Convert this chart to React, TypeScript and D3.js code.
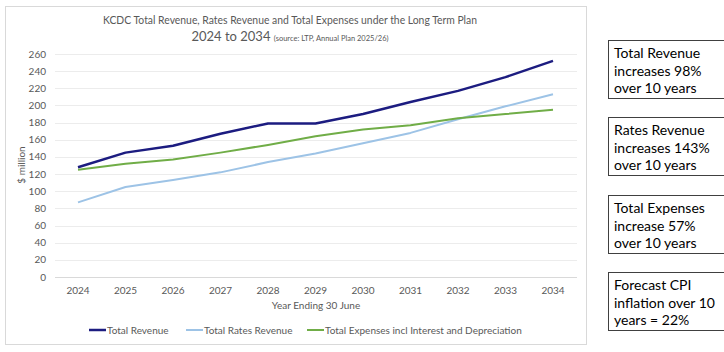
import { useEffect, useRef } from "react";
import * as d3 from "d3";

const years = [2024, 2025, 2026, 2027, 2028, 2029, 2030, 2031, 2032, 2033, 2034];
const totalRevenue = [128, 145, 153, 167, 179, 179, 190, 204, 217, 233, 252];
const ratesRevenue = [87, 105, 113, 122, 134, 144, 156, 168, 184, 199, 213];
const totalExpenses = [125, 132, 137, 145, 154, 164, 172, 177, 185, 190, 195];
const yTicks = [0, 20, 40, 60, 80, 100, 120, 140, 160, 180, 200, 220, 240, 260];

const seriesNames = [
  "Total Revenue",
  "Total Rates Revenue",
  "Total Expenses incl Interest and Depreciation"
];
const seriesColors = ["#1c1c80", "#9dc3e6", "#70ad47"];

const notes = [
  ["Total Revenue", "increases 98%", "over 10 years"],
  ["Rates Revenue", "increases 143%", "over 10 years"],
  ["Total Expenses", "increase 57%", "over 10 years"],
  ["Forecast CPI", "inflation over 10", "years = 22%"]
];

const font = "Lato, 'Open Sans', sans-serif";

const App = () => {
  const svgRef = useRef<SVGSVGElement | null>(null);

  useEffect(() => {
    const svg = d3.select(svgRef.current);
    svg.selectAll("*").remove();

    const width = 724;
    const height = 352;
    svg.attr("width", width).attr("height", height);

    svg.append("rect")
      .attr("width", width).attr("height", height)
      .attr("fill", "#fff");

    // chart frame
    svg.append("rect")
      .attr("x", 5.5).attr("y", 6.5)
      .attr("width", 581).attr("height", 338)
      .attr("fill", "#fff")
      .attr("stroke", "#d9d9d9");

    // title
    svg.append("text")
      .attr("x", 290).attr("y", 24)
      .attr("text-anchor", "middle")
      .attr("font-family", font).attr("font-size", 12)
      .attr("fill", "#595959")
      .attr("textLength", 374)
      .attr("lengthAdjust", "spacingAndGlyphs")
      .text("KCDC Total Revenue, Rates Revenue and Total Expenses under the Long Term Plan");
    const t2 = svg.append("text")
      .attr("x", 290).attr("y", 41)
      .attr("text-anchor", "middle")
      .attr("font-family", font)
      .attr("fill", "#595959");
    t2.append("tspan").attr("font-size", 13).text("2024 to 2034 ");
    t2.append("tspan").attr("font-size", 7.5).text("(source: LTP, Annual Plan 2025/26)");

    const x = d3.scalePoint<number>()
      .domain(years)
      .range([78, 553]);
    const y = d3.scaleLinear()
      .domain([0, 260])
      .range([277, 54]);

    // grid
    svg.append("g")
      .selectAll("line")
      .data(yTicks)
      .enter()
      .append("line")
      .attr("x1", 55).attr("x2", 577)
      .attr("y1", d => Math.round(y(d)) + 0.5)
      .attr("y2", d => Math.round(y(d)) + 0.5)
      .attr("stroke", d => (d === 0 ? "#d9d9d9" : "#ececec"))
      .attr("stroke-width", 1);

    // y labels
    svg.append("g")
      .selectAll("text")
      .data(yTicks)
      .enter()
      .append("text")
      .attr("x", 46)
      .attr("y", d => y(d) + 3.5)
      .attr("text-anchor", "end")
      .attr("font-family", font).attr("font-size", 10)
      .attr("fill", "#595959")
      .text(d => d);

    // x labels
    svg.append("g")
      .selectAll("text")
      .data(years)
      .enter()
      .append("text")
      .attr("x", d => x(d) as number)
      .attr("y", 294)
      .attr("text-anchor", "middle")
      .attr("font-family", font).attr("font-size", 10)
      .attr("fill", "#595959")
      .text(d => d);

    svg.append("text")
      .attr("x", 316).attr("y", 309)
      .attr("text-anchor", "middle")
      .attr("font-family", font).attr("font-size", 10)
      .attr("fill", "#595959")
      .text("Year Ending 30 June");

    svg.append("text")
      .attr("transform", "translate(25,165) rotate(-90)")
      .attr("text-anchor", "middle")
      .attr("font-family", font).attr("font-size", 10)
      .attr("fill", "#595959")
      .text("$ million");

    // lines
    const line = d3.line<number>()
      .x((_, i) => x(years[i]) as number)
      .y(d => y(d));

    [ratesRevenue, totalExpenses, totalRevenue].forEach((vals) => {
      const idx = vals === totalRevenue ? 0 : vals === ratesRevenue ? 1 : 2;
      svg.append("path")
        .datum(vals)
        .attr("d", line)
        .attr("fill", "none")
        .attr("stroke", seriesColors[idx])
        .attr("stroke-width", idx === 0 ? 2.5 : 2)
        .attr("stroke-linejoin", "round");
    });

    // legend
    const legendX = [89, 186, 307];
    seriesNames.forEach((name, i) => {
      const lg = svg.append("g").attr("transform", `translate(${legendX[i]},330)`);
      lg.append("line")
        .attr("x1", 0).attr("x2", 17)
        .attr("stroke", seriesColors[i])
        .attr("stroke-width", i === 0 ? 2.5 : 2);
      lg.append("text")
        .attr("x", 18).attr("y", 3.5)
        .attr("font-family", font).attr("font-size", 10)
        .attr("fill", "#595959")
        .text(name);
    });

    // note boxes
    const boxTops = [40, 117, 195, 272];
    notes.forEach((lines, i) => {
      const g = svg.append("g").attr("transform", `translate(608,${boxTops[i]})`);
      g.append("rect")
        .attr("x", 0.5).attr("y", 0.5)
        .attr("width", 130).attr("height", 58)
        .attr("fill", "#fff")
        .attr("stroke", "#404040")
        .attr("stroke-width", 1);
      lines.forEach((t, j) => {
        g.append("text")
          .attr("x", 6)
          .attr("y", 18 + j * 17.5)
          .attr("font-family", font)
          .attr("font-size", 14)
          .attr("fill", "#000")
          .text(t);
      });
    });
  }, []);

  return (
    <div style={{ position: "absolute", left: 0, top: 0 }}>
      <svg ref={svgRef}></svg>
    </div>
  );
};

export default App;
